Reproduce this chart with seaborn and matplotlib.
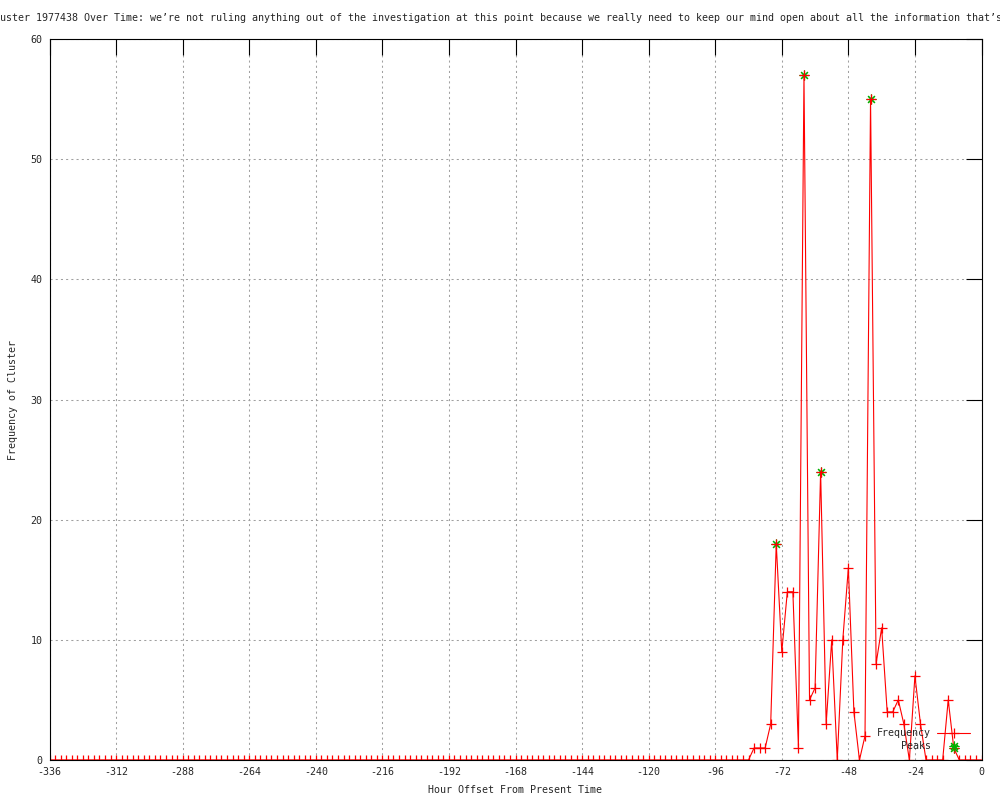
import matplotlib
matplotlib.use("Agg")
import matplotlib.pyplot as plt
import seaborn as sns

# hour offsets (every 2 hours) and cluster frequency
hours = list(range(-336, 1, 2))
freq = [
    0, 0, 0, 0, 0, 0, 0, 0, 0, 0, 0, 0, 0, 0, 0, 0, 0, 0, 0, 0, 0,
    0, 0, 0, 0, 0, 0, 0, 0, 0, 0, 0, 0, 0, 0, 0, 0, 0, 0, 0, 0, 0,
    0, 0, 0, 0, 0, 0, 0, 0, 0, 0, 0, 0, 0, 0, 0, 0, 0, 0, 0, 0, 0,
    0, 0, 0, 0, 0, 0, 0, 0, 0, 0, 0, 0, 0, 0, 0, 0, 0, 0, 0, 0, 0,
    0, 0, 0, 0, 0, 0, 0, 0, 0, 0, 0, 0, 0, 0, 0, 0, 0, 0, 0, 0, 0,
    0, 0, 0, 0, 0, 0, 0, 0, 0, 0, 0, 0, 0, 0, 0, 0, 0, 0, 0, 0, 0,
    0, 1, 1, 1, 3, 18, 9, 14, 14, 1, 57, 5, 6, 24, 3, 10, 0, 10, 16, 4,
    0, 2, 55, 8, 11, 4, 4, 5, 3, 0, 7, 3, 0, 0, 0, 0, 5, 1, 0, 0, 0, 0, 0,
]

peak_hours = [-74, -64, -58, -40, -10]
peak_values = [18, 57, 24, 55, 1]

xticks = list(range(-336, 1, 24))
yticks = [0, 10, 20, 30, 40, 50, 60]

title = ("Cluster 1977438 Over Time: we\u2019re not ruling anything out of the "
         "investigation at this point because we really need to keep our mind "
         "open about all the information that\u2019s")

sns.set_style("white")
plt.rcParams["font.family"] = ["DejaVu Sans Mono"]
plt.rcParams["font.size"] = 7.2
plt.rcParams["axes.unicode_minus"] = False

fig = plt.figure(figsize=(10, 8), dpi=100)
ax = fig.add_axes([0.0495, 0.05, 0.932, 0.90125])

sns.lineplot(x=peak_hours, y=peak_values, ax=ax, color="#00b000", marker=(8, 2, 0),
             linestyle="", markersize=7, markeredgewidth=0.8,
             markeredgecolor="#00b000", label="Peaks", zorder=2.1)
sns.lineplot(x=hours, y=freq, ax=ax, color="red", marker="+", markersize=7,
             markeredgewidth=0.9, markeredgecolor="red", linewidth=0.8,
             label="Frequency", zorder=2.2)

ax.set_xlim(-336, 0)
ax.set_ylim(0, 60)
ax.set_xticks(xticks)
ax.set_yticks(yticks)
ax.grid(True, color="#a0a0a0", linestyle=(0, (2, 3)), linewidth=0.75)
ax.set_axisbelow(True)
ax.tick_params(direction="in", length=11.5, width=0.8, color="black",
               top=True, right=True, labelsize=7.2, pad=5)
for s in ax.spines.values():
    s.set_color("black")
    s.set_linewidth(0.8)
    s.set_zorder(2.5)

ax.set_xlabel("Hour Offset From Present Time", fontsize=7.2, labelpad=6)
ax.set_ylabel("Frequency of Cluster", fontsize=7.2, labelpad=9)

fig.text(-0.0125, 1 - 18 / 800, title, ha="left", va="center", fontsize=7.2)

h, l = ax.get_legend_handles_labels()
order = [l.index("Frequency"), l.index("Peaks")]
leg = ax.legend([h[i] for i in order], [l[i] for i in order], loc="lower right",
                bbox_to_anchor=(0.975, 0.055), bbox_transform=fig.transFigure,
                markerfirst=False, frameon=False, handlelength=3.3,
                handletextpad=0.6, labelspacing=0.3, borderpad=0, fontsize=7.2)
leg.set_zorder(5)

fig.savefig("out.png", dpi=100)
